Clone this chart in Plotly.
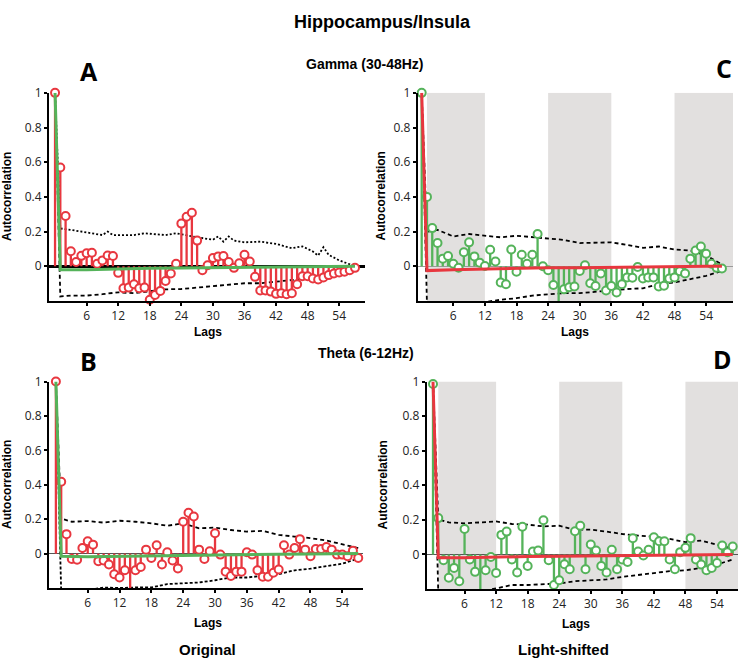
import plotly.graph_objects as go

# ---------------- data ----------------
lags = list(range(58))

acf_A = [1.0, 0.57, 0.29, 0.087, 0.025, 0.06, 0.075, 0.078, 0.015, 0.034, 0.062, 0.059,
         -0.038, -0.127, -0.123, -0.104, -0.127, -0.123, -0.193, -0.165, -0.142, -0.085,
         -0.042, 0.015, 0.246, 0.286, 0.309, 0.148, -0.023, 0.006, 0.047, 0.057, 0.059,
         0.025, -0.009, 0.017, 0.066, 0.028, -0.061, -0.14, -0.14, -0.146, -0.159, -0.155,
         -0.161, -0.155, -0.104, -0.057, -0.057, -0.07, -0.076, -0.064, -0.051, -0.042,
         -0.036, -0.032, -0.023, -0.009]

acf_C = [1.0, 0.40, 0.22, 0.134, 0.044, 0.059, 0.015, -0.008, 0.081, 0.138, 0.057, 0.021,
         0.002, 0.095, 0.028, -0.093, -0.104, 0.097, -0.032, 0.066, 0.015, 0.066, 0.186,
         0.0, -0.023, -0.108, -0.208, -0.133, -0.121, -0.117, -0.027, 0.006, -0.098, -0.114,
         -0.042, -0.14, -0.114, -0.151, -0.104, -0.064, -0.066, -0.004, -0.07, -0.064,
         -0.064, -0.117, -0.112, -0.07, -0.064, -0.028, -0.042, 0.044, 0.091, 0.114, 0.072,
         0.015, -0.009, -0.013]

acf_B = [1.0, 0.418, 0.113, -0.031, -0.036, 0.032, 0.071, 0.052, -0.044, -0.04, -0.063,
         -0.12, -0.139, -0.097, -0.206, -0.097, -0.078, 0.023, -0.025, 0.048, -0.063, 0.008,
         -0.04, -0.086, 0.185, 0.237, 0.216, 0.023, -0.031, 0.013, 0.118, -0.006, -0.105,
         -0.13, -0.105, -0.105, 0.008, -0.006, -0.097, -0.135, -0.135, -0.111, -0.092,
         0.048, -0.006, 0.032, 0.084, 0.023, -0.015, 0.027, 0.027, 0.038, 0.023, -0.006,
         -0.006, -0.015, 0.017, -0.025]

acf_D = [0.986, 0.21, -0.034, -0.135, -0.078, -0.155, 0.147, -0.029, -0.101, -0.206,
         -0.092, -0.015, -0.107, 0.113, 0.132, -0.029, -0.105, 0.16, -0.067, 0.017, 0.023,
         0.198, -0.034, -0.177, -0.149, -0.057, -0.086, 0.134, 0.166, -0.086, 0.057, 0.023,
         -0.067, -0.105, 0.027, -0.086, -0.029, -0.044, 0.094, 0.017, -0.006, 0.027, 0.099,
         0.076, 0.076, -0.029, -0.086, 0.013, 0.038, 0.094, -0.029, -0.059, -0.092, -0.078,
         -0.05, 0.052, 0.013, 0.046]

# confidence bounds (surrogate distribution)
upA_lags = [0, 1, 3, 6, 9, 10, 11, 15, 17, 21, 23, 27, 30, 31, 32, 33, 34, 36, 39, 42, 45, 47, 49, 50, 51, 52, 54, 57]
upA = [1.0, 0.218, 0.21, 0.195, 0.18, 0.2, 0.18, 0.18, 0.19, 0.18, 0.19, 0.167, 0.153, 0.172,
       0.142, 0.172, 0.148, 0.138, 0.142, 0.129, 0.104, 0.115, 0.085, 0.062, 0.11, 0.066, 0.034, 0.0]
bound_lags = [0, 1, 3, 6, 9, 12, 15, 18, 21, 24, 27, 30, 33, 36, 39, 42, 45, 48, 51, 54, 57]
loA = [1.0, -0.174, -0.169, -0.169, -0.161, -0.15, -0.155, -0.142, -0.133, -0.131, -0.123,
       -0.114, -0.108, -0.098, -0.098, -0.089, -0.08, -0.07, -0.051, -0.032, -0.004]
upC = [1.0, 0.199, 0.21, 0.172, 0.186, 0.176, 0.167, 0.176, 0.167, 0.157, 0.152, 0.134,
       0.134, 0.138, 0.123, 0.106, 0.114, 0.097, 0.091, 0.062, 0.011]
loC = [1.0, -0.22, -0.212, -0.206, -0.206, -0.206, -0.193, -0.184, -0.169, -0.161, -0.155,
       -0.155, -0.146, -0.136, -0.131, -0.127, -0.104, -0.093, -0.076, -0.055, -0.027]
upB = [1.0, 0.204, 0.185, 0.189, 0.18, 0.191, 0.185, 0.176, 0.162, 0.176, 0.147, 0.151,
       0.137, 0.128, 0.132, 0.109, 0.099, 0.09, 0.076, 0.055, 0.032]
loB = [1.0, -0.225, -0.22, -0.212, -0.197, -0.2, -0.197, -0.197, -0.177, -0.174, -0.168,
       -0.155, -0.139, -0.139, -0.13, -0.12, -0.097, -0.088, -0.073, -0.059, -0.029]
upD = [1.0, 0.204, 0.185, 0.18, 0.185, 0.191, 0.176, 0.172, 0.162, 0.166, 0.143, 0.143,
       0.132, 0.118, 0.109, 0.103, 0.09, 0.071, 0.08, 0.055, 0.032]
loD = [1.0, -0.225, -0.22, -0.212, -0.216, -0.197, -0.177, -0.177, -0.172, -0.168, -0.155,
       -0.149, -0.145, -0.13, -0.12, -0.111, -0.097, -0.092, -0.078, -0.059, -0.029]

# surrogate mean
mean_lags = [0, 1, 6, 12, 18, 24, 30, 36, 42, 48, 54, 57]
meanA = [1.0, -0.02, -0.02, -0.015, -0.012, -0.01, -0.008, -0.01, -0.008, -0.006, -0.004, 0.0]
meanC = [1.0, -0.025, -0.02, -0.015, -0.012, -0.008, -0.008, -0.005, -0.004, -0.002, 0.0, 0.0]
meanB = [1.0, -0.015, -0.018, -0.015, -0.015, -0.012, -0.01, -0.006, -0.004, -0.002, 0.0, 0.0]
meanD = [1.0, -0.02, -0.02, -0.015, -0.012, -0.01, -0.008, -0.005, -0.003, -0.002, 0.0, 0.0]

band_start = [1, 24, 48]
band_end = [12, 36, 60]

x_ticks = [6, 12, 18, 24, 30, 36, 42, 48, 54]
y_ticks = [0, 0.2, 0.4, 0.6, 0.8, 1]
y_ticktext = ["0", "0.2", "0.4", "0.6", "0.8", "1"]

# ---------------- style ----------------
RED = "#e8373f"
GREEN = "#55b35a"
BAND = "#e2e0df"
W, H = 750, 660

fig = go.Figure()


def px_x(p):
    return p / W


def px_y(p):
    return 1 - p / H


def add_panel(ax, vals, up_l, up, lo_l, lo, mean, stem_col, mean_col, up_dash, lo_dash):
    xr = "x" if ax == 1 else f"x{ax}"
    yr = "y" if ax == 1 else f"y{ax}"
    # bounds
    fig.add_trace(go.Scatter(x=up_l, y=up, mode="lines", xaxis=xr, yaxis=yr,
                             line=dict(color="black", width=1.8, dash=up_dash),
                             cliponaxis=False, hoverinfo="skip"))
    fig.add_trace(go.Scatter(x=lo_l, y=lo, mode="lines", xaxis=xr, yaxis=yr,
                             line=dict(color="black", width=1.8, dash=lo_dash),
                             cliponaxis=False, hoverinfo="skip"))
    # stems
    sx, sy = [], []
    for l, v in zip(lags, vals):
        sx += [l, l, None]
        sy += [0, v, None]
    fig.add_trace(go.Scatter(x=sx, y=sy, mode="lines", xaxis=xr, yaxis=yr,
                             line=dict(color=stem_col, width=2.3), cliponaxis=False,
                             hoverinfo="skip"))
    fig.add_trace(go.Scatter(x=lags, y=vals, mode="markers", xaxis=xr, yaxis=yr,
                             marker=dict(symbol="circle", size=8, color="white",
                                         line=dict(color=stem_col, width=2)),
                             cliponaxis=False))
    # surrogate mean
    fig.add_trace(go.Scatter(x=mean_lags, y=mean, mode="lines", xaxis=xr, yaxis=yr,
                             line=dict(color=mean_col, width=3), cliponaxis=False,
                             hoverinfo="skip"))


add_panel(1, acf_A, upA_lags, upA, bound_lags, loA, meanA, RED, GREEN, "2px,2px", "4px,3px")
add_panel(2, acf_C, bound_lags, upC, bound_lags, loC, meanC, GREEN, RED, "4px,3px", "4px,3px")
add_panel(3, acf_B, bound_lags, upB, bound_lags, loB, meanB, RED, GREEN, "4px,3px", "3px,2px")
add_panel(4, acf_D, bound_lags, upD, bound_lags, loD, meanD, GREEN, RED, "4px,3px", "4px,3px")

# grey bands for light-shifted panels
shapes = []
for yref, xref in (("y2", "x2"), ("y4", "x4")):
    for s, e in zip(band_start, band_end):
        shapes.append(dict(type="rect", xref=xref, yref=yref, x0=s, x1=e, y0=-0.2, y1=1.0,
                           fillcolor=BAND, line=dict(width=0), layer="below"))

tickfont = dict(family="Open Sans, Liberation Sans, Arial", size=12, color="#222")


def xaxis(dom, rng):
    return dict(domain=dom, range=rng, showline=True, linecolor="black", linewidth=2,
                showgrid=False, zeroline=False, tickmode="array", tickvals=x_ticks,
                ticks="outside", ticklen=3, tickwidth=2, tickcolor="black",
                tickfont=tickfont, fixedrange=True)


def yaxis(dom, anchor, zc, zw):
    return dict(domain=dom, range=[-0.2, 1.0], anchor=anchor, showline=True,
                linecolor="black", linewidth=2, showgrid=False, zeroline=True,
                zerolinecolor=zc, zerolinewidth=zw, tickmode="array", tickvals=y_ticks,
                ticktext=y_ticktext, ticks="outside", ticklen=3, tickwidth=2,
                tickcolor="black", tickfont=tickfont, fixedrange=True)


yA = [px_y(296), px_y(85)]
yB = [px_y(587), px_y(377.7)]
yD = [px_y(588), px_y(377.7)]

fig.update_layout(
    width=W, height=H, autosize=False,
    margin=dict(l=0, r=0, t=0, b=0),
    paper_bgcolor="white", plot_bgcolor="rgba(0,0,0,0)",
    showlegend=False,
    shapes=shapes,
    xaxis=dict(xaxis([px_x(49), px_x(365)], [-1.15, 58.9]), anchor="y"),
    yaxis=yaxis(yA, "x", "black", 3),
    xaxis2=dict(xaxis([px_x(417.7), px_x(733)], [-0.76, 59.1]), anchor="y2"),
    yaxis2=yaxis(yA, "x2", "#9a9a9a", 1.2),
    xaxis3=dict(xaxis([px_x(49), px_x(363)], [-1.3, 57.9]), anchor="y3"),
    yaxis3=yaxis(yB, "x3", "#555555", 1.2),
    xaxis4=dict(xaxis([px_x(426.7), px_x(738)], [-1.2, 58.0]), anchor="y4"),
    yaxis4=yaxis(yD, "x4", "#555555", 1.2),
)

BOLD = "Liberation Sans, Arial, Helvetica, sans-serif"
texts = [
    ("<b>Hippocampus/Insula</b>", 382, 13, 18, BOLD, 0),
    ("<b>Gamma (30-48Hz)</b>", 365, 56, 14, BOLD, 0),
    ("<b>Theta (6-12Hz)</b>", 366, 349, 14, BOLD, 0),
    ("<b>A</b>", 89, 63, 25, "Open Sans, Lato, sans-serif", 0),
    ("<b>C</b>", 724, 60, 25, "Open Sans, Lato, sans-serif", 0),
    ("<b>B</b>", 88, 357, 25, "Open Sans, Lato, sans-serif", 0),
    ("<b>D</b>", 722, 355, 25, "Open Sans, Lato, sans-serif", 0),
    ("<b>Lags</b>", 208, 327, 12, BOLD, 0),
    ("<b>Lags</b>", 575, 327, 12, BOLD, 0),
    ("<b>Lags</b>", 208, 622, 12, BOLD, 0),
    ("<b>Lags</b>", 576, 624, 12, BOLD, 0),
    ("<b>Autocorrelation</b>", 7.5, 190, 12, BOLD, -90),
    ("<b>Autocorrelation</b>", 381, 190, 12, BOLD, -90),
    ("<b>Autocorrelation</b>", 7.5, 482, 12, BOLD, -90),
    ("<b>Autocorrelation</b>", 383, 483, 12, BOLD, -90),
    ("<b>Original</b>", 207, 649, 15, BOLD, 0),
    ("<b>Light-shifted</b>", 563, 649, 15, BOLD, 0),
]
for t, x, y, s, fam, ang in texts:
    fig.add_annotation(text=t, x=px_x(x), y=px_y(y), xref="paper", yref="paper",
                       xanchor="center", yanchor="middle", showarrow=False,
                       textangle=ang, font=dict(family=fam, size=s, color="black"))

fig.write_html(
    "out.html",
    config={"displayModeBar": False},
    post_script="document.body.style.margin='0';document.body.style.padding='0';",
)
